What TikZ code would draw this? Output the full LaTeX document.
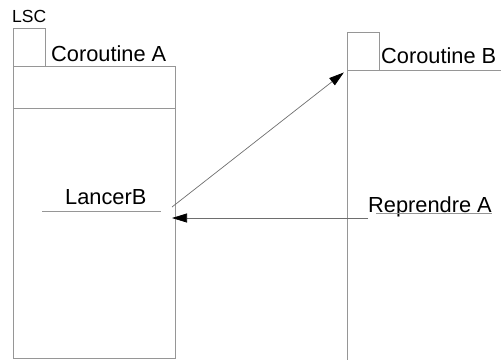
\documentclass[tikz,border=0pt]{standalone}
\usepackage{fontspec}
\setmainfont{Liberation Sans}
\usetikzlibrary{arrows.meta, positioning}
\definecolor{LineGray}{RGB}{150,150,150}
\definecolor{ArrowGray}{RGB}{110,110,110}

\begin{document}
\begin{tikzpicture}[x=1pt,y=-1pt,
  frame/.style={draw=LineGray, line width=0.9pt, inner sep=0, outer sep=0, anchor=north west},
  txt/.style={inner sep=0, anchor=base west, font=\fontsize{21.8}{26}\selectfont},
  call/.style={draw=ArrowGray, line width=0.7pt, -{Triangle[length=15pt,width=9pt,fill=black,color=black]}}]
  \path[use as bounding box] (0,0) rectangle (501,360);

  % Coroutine A
  \node[frame, minimum width=32pt, minimum height=38pt] (lscA) at (13,28) {};
  \node[frame, minimum width=162pt, minimum height=292pt] (coA) at (13,66) {};
  \draw[LineGray, line width=0.9pt] (coA.west |- 0,108) -- (coA.east |- 0,108);
  \node[txt, font=\fontsize{17.5}{21}\selectfont] (lsc) at (12,22) {LSC};
  \node[txt] (nameA) at (51,61) {Coroutine A};

  % Coroutine B
  \node[frame, minimum width=32pt, minimum height=38pt] (lscB) at (347,32) {};
  \draw[LineGray, line width=0.9pt] (lscB.north west) -- (347,360);
  \draw[LineGray, line width=0.9pt] (lscB.south west) -- (501,70);
  \node[txt] (nameB) at (381,63) {Coroutine B};

  % appels
  \node[txt] (lancer) at (65,204) {LancerB};
  \draw[LineGray, line width=0.9pt] (42,211) -- (161,211);
  \node[txt] (reprendre) at (368,212) {Reprendre A};
  \draw[LineGray, line width=0.9pt] (376,213) -- (492,213);

  \coordinate (lancerOut) at (172,207);
  \coordinate (repOut) at (368,218);
  \draw[call, shorten >=4pt] (lancerOut) -- (lscB.south west);
  \draw[call, shorten >=-3pt] (repOut) -- (coA.east |- repOut);
\end{tikzpicture}
\end{document}
